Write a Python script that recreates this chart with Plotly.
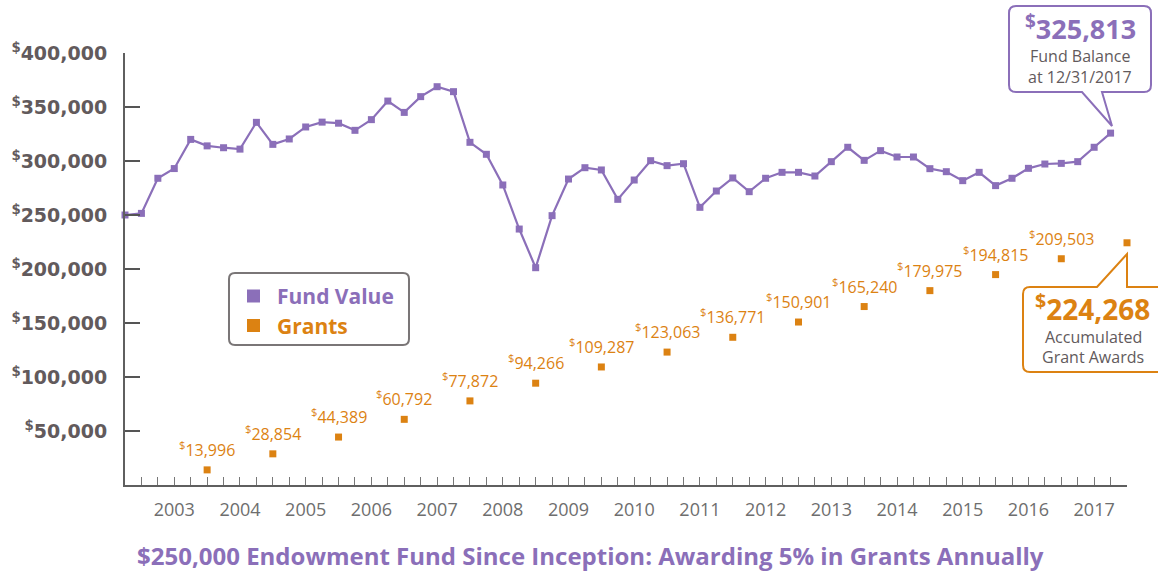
import plotly.graph_objects as go
import pandas as pd

# ---------------- data ----------------
quarters = pd.period_range("2002Q4", "2017Q4", freq="Q")
fund_value = [250000, 251500, 284000, 293000, 320000, 314000, 312300, 311000, 335800, 315400,
              320400, 331500, 336000, 335000, 328400, 338300, 355500, 345000, 359600, 368800,
              364200, 317300, 306200, 277800, 237000, 201200, 249400, 283300, 293800, 291700,
              264500, 282400, 300300, 295700, 297500, 257100, 272200, 284300, 271600, 284000,
              289500, 289500, 286100, 299400, 312700, 300600, 309600, 303700, 303700, 292900,
              290100, 281800, 289500, 277200, 284000, 293200, 297200, 297800, 299400, 312700,
              325813]
grant_years = list(range(2003, 2018))
grants = [13996, 28854, 44389, 60792, 77872, 94266, 109287, 123063, 136771, 150901,
          165240, 179975, 194815, 209503, 224268]
y_ticks = [50000, 100000, 150000, 200000, 250000, 300000, 350000, 400000]
year_labels = [str(y) for y in grant_years]

PURPLE = "#8B6FB9"
ORANGE = "#DC8212"
GRAY = "#625a5c"
LIGHTGRAY = "#6e6e6e"

fund_x = [p.year + (p.quarter - 1) / 4 for p in quarters]
grant_x = [y + 1.0 for y in grant_years]
label_x = [y + 0.5 for y in grant_years]

W, H = 1158, 571
L, R, T, B = 125, 31, 53, 86
PW, PH = W - L - R, H - T - B


def px(x):
    return (x - L) / PW


def py(y):
    return (H - B - y) / PH


def f(v):
    return f"{v:.5f}"


def rounded_path(x0, y0, x1, y1, r, pointer=None):
    X0, X1 = px(x0), px(x1)
    Y0, Y1 = py(y0), py(y1)
    rx, ry = r / PW, r / PH
    d = f"M {f(X0+rx)},{f(Y0)} "
    if pointer and pointer[0] == "top":
        _, a, b, tx, ty = pointer
        d += f"L {f(px(a))},{f(Y0)} L {f(px(tx))},{f(py(ty))} L {f(px(b))},{f(Y0)} "
    d += f"L {f(X1-rx)},{f(Y0)} Q {f(X1)},{f(Y0)} {f(X1)},{f(Y0-ry)} "
    d += f"L {f(X1)},{f(Y1+ry)} Q {f(X1)},{f(Y1)} {f(X1-rx)},{f(Y1)} "
    if pointer and pointer[0] == "bottom":
        _, a, b, tx, ty = pointer
        d += f"L {f(px(b))},{f(Y1)} L {f(px(tx))},{f(py(ty))} L {f(px(a))},{f(Y1)} "
    d += f"L {f(X0+rx)},{f(Y1)} Q {f(X0)},{f(Y1)} {f(X0)},{f(Y1+ry)} "
    d += f"L {f(X0)},{f(Y0-ry)} Q {f(X0)},{f(Y0)} {f(X0+rx)},{f(Y0)} Z"
    return d


def note(x, y, text, size, color, xanchor="center"):
    return dict(x=px(x), y=py(y), xref="paper", yref="paper", showarrow=False,
                xanchor=xanchor, yanchor="middle", text=text,
                font=dict(family="Open Sans", size=size, color=color))


fig = go.Figure()
fig.add_trace(go.Scatter(
    x=fund_x, y=fund_value, mode="lines+markers", name="Fund Value",
    line=dict(color=PURPLE, width=2.2),
    marker=dict(symbol="square", size=7, color=PURPLE),
    showlegend=False, cliponaxis=False))
fig.add_trace(go.Scatter(
    x=grant_x, y=grants, mode="markers", name="Grants",
    marker=dict(symbol="square", size=7, color=ORANGE),
    showlegend=False, cliponaxis=False))

annotations = []
for gx, g in zip(grant_x[:-1], grants[:-1]):
    annotations.append(dict(
        x=gx, y=g, xref="x", yref="y", yshift=21, showarrow=False,
        xanchor="center", yanchor="middle",
        text=f"<sup>$</sup>{g:,}",
        font=dict(family="Open Sans", size=16, color=ORANGE)))

shapes = []
# Fund balance callout
shapes.append(dict(type="path", xref="paper", yref="paper",
                   path=rounded_path(1009, 6, 1151, 92, 7, ("bottom", 1082, 1102, 1112, 126)),
                   line=dict(color=PURPLE, width=2), fillcolor="white", layer="above"))
annotations += [
    note(1080, 28, f"<b><sup>$</sup>{fund_value[-1]:,}</b>", 27, PURPLE),
    note(1080, 56, "Fund Balance", 16, GRAY),
    note(1080, 77, "at 12/31/2017", 16, GRAY),
]
# Grant callout
shapes.append(dict(type="path", xref="paper", yref="paper",
                   path=rounded_path(1023, 287, 1166, 372, 7, ("top", 1097, 1127, 1127, 254)),
                   line=dict(color=ORANGE, width=2), fillcolor="white", layer="above"))
annotations += [
    note(1092, 307, f"<b><sup>$</sup>{grants[-1]:,}</b>", 28, ORANGE),
    note(1093, 337, "Accumulated", 16, GRAY),
    note(1093, 357, "Grant Awards", 16, GRAY),
]
# Legend box
shapes.append(dict(type="path", xref="paper", yref="paper",
                   path=rounded_path(229, 273, 409, 345, 6),
                   line=dict(color="#7a7677", width=2), fillcolor="white"))
for (cy, col, name) in [(296, PURPLE, "Fund Value"), (325.5, ORANGE, "Grants")]:
    shapes.append(dict(type="rect", xref="paper", yref="paper",
                       x0=px(247), x1=px(260), y0=py(cy + 6.5), y1=py(cy - 6.5),
                       line=dict(width=0), fillcolor=col))
    annotations.append(note(275, cy, f"<b>{name}</b>", 21, col, xanchor="left"))
# Title
annotations.append(note(590, 555,
                        "<b>$250,000 Endowment Fund Since Inception: Awarding 5% in Grants Annually</b>",
                        24, PURPLE))

fig.update_layout(
    template="none",
    width=W, height=H, margin=dict(l=L, r=R, t=T, b=B, autoexpand=False),
    paper_bgcolor="white", plot_bgcolor="white",
    shapes=shapes, annotations=annotations,
    xaxis=dict(range=[2002.75, 2018.0], showgrid=False, zeroline=False, automargin=False,
               showline=True, linecolor="#5f5f5f", linewidth=2,
               tickmode="array", tickvals=label_x, ticktext=year_labels,
               ticks="inside", ticklen=8, tickwidth=1, tickcolor="#777",
               ticklabelstandoff=7,
               tickfont=dict(family="Open Sans", size=18, color=LIGHTGRAY),
               minor=dict(tick0=2002.75, dtick=0.25, ticks="inside", ticklen=8,
                          tickwidth=1, tickcolor="#777", showgrid=False)),
    yaxis=dict(range=[0, 400000], showgrid=False, zeroline=False, automargin=False,
               showline=True, linecolor="#5f5f5f", linewidth=2,
               tickmode="array", tickvals=y_ticks,
               ticktext=[f"<sup>$</sup>{v:,}" for v in y_ticks],
               ticks="inside", ticklen=15, tickwidth=2, tickcolor="#555",
               ticklabelstandoff=12,
               tickfont=dict(family="DejaVu Sans", size=19, color=GRAY, weight="bold")),
)

fig.write_html("out.html", config={"displayModeBar": False},
               post_script="document.body.style.margin='0';")
